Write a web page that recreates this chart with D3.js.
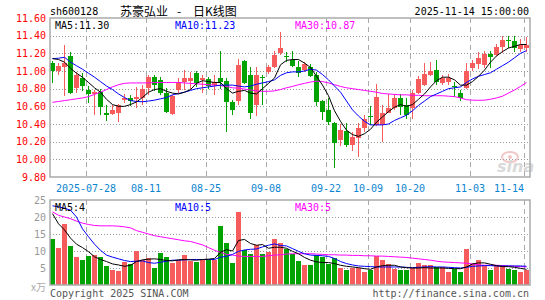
<!DOCTYPE html>
<html>
<head>
<meta charset="utf-8">
<script src="https://cdn.jsdelivr.net/npm/d3@7"></script>
<style>
  body { margin: 0; background: #fff; }
  svg { display: block; }
  text { font-family: "DejaVu Sans Mono", monospace; font-size: 10px; }
</style>
</head>
<body>
<div id="chart"></div>
<script>
// trading days shown (80 sessions)
const dates = [
  "2025-07-18","2025-07-21","2025-07-22","2025-07-23","2025-07-24","2025-07-25",
  "2025-07-28","2025-07-29","2025-07-30","2025-07-31","2025-08-01",
  "2025-08-04","2025-08-05","2025-08-06","2025-08-07","2025-08-08",
  "2025-08-11","2025-08-12","2025-08-13","2025-08-14","2025-08-15",
  "2025-08-18","2025-08-19","2025-08-20","2025-08-21","2025-08-22",
  "2025-08-25","2025-08-26","2025-08-27","2025-08-28","2025-08-29",
  "2025-09-01","2025-09-02","2025-09-03","2025-09-04","2025-09-05",
  "2025-09-08","2025-09-09","2025-09-10","2025-09-11","2025-09-12",
  "2025-09-15","2025-09-16","2025-09-17","2025-09-18","2025-09-19",
  "2025-09-22","2025-09-23","2025-09-24","2025-09-25","2025-09-26",
  "2025-09-29","2025-09-30","2025-10-09","2025-10-10",
  "2025-10-13","2025-10-14","2025-10-15","2025-10-16","2025-10-17",
  "2025-10-20","2025-10-21","2025-10-22","2025-10-23","2025-10-24",
  "2025-10-27","2025-10-28","2025-10-29","2025-10-30","2025-10-31",
  "2025-11-03","2025-11-04","2025-11-05","2025-11-06","2025-11-07",
  "2025-11-10","2025-11-11","2025-11-12","2025-11-13","2025-11-14"
];

const open = [11.09,11.00,11.05,11.17,10.81,10.92,10.78,10.74,10.76,10.53,
  10.51,10.53,10.67,10.70,10.68,10.70,10.81,10.93,10.90,10.75,
  10.51,10.78,10.88,10.89,10.98,10.90,10.91,10.845,10.925,10.89,
  10.645,10.66,11.11,10.96,10.61,10.935,10.99,11.05,11.20,11.165,
  11.125,11.05,11.01,11.05,10.96,10.66,10.56,10.41,10.22,10.32,
  10.16,10.245,10.36,10.485,10.39,10.39,10.53,10.577,10.70,10.62,
  10.585,10.747,10.84,10.95,11.01,10.86,10.87,10.83,10.75,10.81,
  11.03,11.075,11.07,11.19,11.18,11.27,11.35,11.345,11.25,11.26];
const high = [11.11,11.09,11.29,11.21,10.99,10.98,10.83,10.78,10.80,10.61,
  10.61,10.63,10.74,10.73,10.82,10.84,10.96,10.96,10.93,10.81,
  10.73,10.92,11.01,10.99,11.00,10.95,10.93,10.95,11.23,10.92,
  10.67,11.14,11.13,11.05,11.05,10.955,11.07,11.23,11.445,11.22,
  11.226,11.11,11.10,11.08,10.99,10.67,10.69,10.42,10.40,10.41,
  10.31,10.41,10.50,10.60,10.85,10.615,10.735,10.74,10.735,10.69,
  10.785,10.94,11.09,11.10,11.12,10.95,10.97,10.88,10.78,11.09,
  11.13,11.22,11.23,11.23,11.31,11.40,11.40,11.40,11.36,11.38];
const low = [10.86,10.95,10.72,10.74,10.75,10.77,10.64,10.50,10.50,10.43,
  10.50,10.42,10.64,10.60,10.58,10.61,10.73,10.77,10.73,10.53,
  10.50,10.75,10.79,10.80,10.82,10.75,10.80,10.73,10.80,10.31,
  10.50,10.62,10.85,10.46,10.49,10.61,10.97,11.03,11.18,11.105,
  11.04,10.93,10.99,10.93,10.60,10.44,10.39,9.906,10.15,10.145,
  10.09,10.03,10.31,10.39,10.38,10.20,10.52,10.56,10.50,10.455,
  10.46,10.74,10.83,10.94,10.84,10.84,10.84,10.71,10.66,10.80,
  11.00,11.02,11.03,11.03,11.17,11.20,11.26,11.22,11.22,11.21];
const close = [11.00,11.06,11.09,10.75,10.95,10.83,10.74,10.76,10.59,10.50,
  10.56,10.62,10.70,10.66,10.71,10.80,10.93,10.84,10.75,10.54,
  10.72,10.87,10.92,10.92,10.86,10.92,10.83,10.875,10.87,10.65,
  10.56,11.07,10.86,10.53,10.95,10.925,11.04,11.18,11.265,11.155,
  11.06,10.975,11.075,10.947,10.653,10.54,10.42,10.19,10.33,10.16,
  10.257,10.35,10.457,10.48,10.71,10.52,10.577,10.69,10.596,10.50,
  10.747,10.91,10.97,11.00,10.87,10.92,10.92,10.82,10.69,11.00,
  11.09,11.15,11.19,11.16,11.27,11.35,11.345,11.265,11.30,11.30];

// volume, in 10k lots
const volume = [13.4,10.9,17.8,11.4,8.2,7.5,8.4,8.7,8.1,5.5,
  4.3,4.0,6.8,6.1,9.9,7.5,7.9,5.0,9.3,8.1,
  6.5,7.3,8.7,7.0,6.7,7.3,7.3,7.3,17.5,12.5,
  6.5,21.5,10.2,9.0,11.9,9.0,9.7,13.4,12.4,10.5,
  9.0,7.0,5.8,5.8,8.9,8.2,6.1,8.0,4.9,4.3,
  4.9,4.9,3.8,4.4,8.5,7.3,6.2,4.8,4.3,4.3,
  5.1,6.4,5.8,6.0,5.4,5.4,3.8,4.8,3.8,10.5,
  6.1,7.3,5.6,4.3,6.0,6.0,4.7,4.3,3.8,4.3];

// moving averages as drawn on the chart
const ma5 = [11.14,11.13,11.10,11.03,10.975,10.93,10.87,10.81,10.76,10.68,
  10.62,10.60,10.60,10.62,10.65,10.70,10.76,10.79,10.80,10.77,
  10.75,10.74,10.76,10.79,10.86,10.89,10.88,10.87,10.87,10.80,
  10.75,10.77,10.78,10.75,10.74,10.80,10.86,10.92,11.07,11.12,
  11.13,11.13,11.09,11.04,10.94,10.84,10.72,10.55,10.43,10.33,
  10.28,10.26,10.29,10.34,10.42,10.48,10.54,10.59,10.62,10.60,
  10.62,10.68,10.74,10.82,10.89,10.93,10.93,10.90,10.84,10.84,
  10.88,10.94,11.01,11.10,11.17,11.22,11.26,11.28,11.30,11.30];
const ma10 = [11.14,11.145,11.155,11.10,11.06,11.02,10.975,10.93,10.88,10.83,
  10.79,10.74,10.70,10.665,10.655,10.652,10.66,10.67,10.685,10.70,
  10.73,10.745,10.76,10.78,10.80,10.81,10.82,10.83,10.84,10.84,
  10.84,10.83,10.82,10.83,10.85,10.865,10.88,10.90,10.95,10.98,
  10.99,10.99,11.00,11.02,11.01,10.96,10.90,10.83,10.76,10.66,
  10.56,10.49,10.43,10.39,10.39,10.39,10.40,10.44,10.47,10.50,
  10.55,10.61,10.66,10.71,10.74,10.77,10.80,10.81,10.82,10.87,
  10.91,10.94,10.96,10.98,11.02,11.06,11.10,11.15,11.20,11.23];
const ma30 = [10.645,10.655,10.665,10.675,10.685,10.695,10.71,10.735,10.76,10.79,
  10.82,10.845,10.86,10.865,10.865,10.865,10.865,10.87,10.87,10.87,
  10.87,10.87,10.865,10.86,10.855,10.85,10.845,10.84,10.835,10.825,
  10.81,10.805,10.795,10.785,10.775,10.77,10.77,10.775,10.79,10.81,
  10.825,10.845,10.86,10.875,10.885,10.88,10.865,10.845,10.825,10.81,
  10.80,10.79,10.78,10.77,10.76,10.745,10.74,10.735,10.73,10.73,
  10.725,10.725,10.72,10.72,10.72,10.72,10.715,10.71,10.695,10.675,
  10.67,10.668,10.67,10.68,10.695,10.715,10.75,10.785,10.825,10.87];

const vma5 = [21.0,18.0,16.2,13.8,12.0,11.0,9.8,8.3,7.5,6.9,
  6.2,5.9,5.5,5.8,6.9,7.4,7.6,7.7,7.5,7.2,
  7.1,7.4,7.5,7.4,7.3,7.5,7.6,7.8,9.6,10.4,
  10.0,13.1,13.4,12.2,11.7,11.9,10.8,11.1,11.1,10.8,
  9.9,9.2,8.1,7.3,6.8,6.6,6.6,6.3,5.8,5.5,
  5.3,5.1,4.8,4.6,5.3,5.7,5.8,5.8,5.3,5.1,
  5.0,5.0,5.1,5.0,5.0,5.0,4.9,4.8,4.8,5.3,
  6.2,6.5,6.5,6.1,5.7,5.4,5.4,5.2,4.9,4.6];
const vma10 = [23.3,23.0,22.6,22.0,20.0,16.5,14.2,12.0,10.2,8.8,
  8.2,7.7,7.2,6.9,7.0,7.1,6.6,6.4,6.7,7.0,
  7.3,7.3,7.4,7.5,7.5,7.5,7.5,7.5,8.2,8.4,
  9.0,9.9,10.3,10.5,10.6,11.2,11.7,12.1,11.6,11.5,
  10.7,9.9,9.2,8.8,8.7,8.6,8.4,7.8,6.9,6.3,
  5.9,5.6,5.5,5.4,5.3,5.3,5.3,5.3,5.3,5.2,
  5.1,5.2,5.3,5.4,5.3,5.3,5.2,5.1,5.0,5.2,
  5.5,5.6,5.7,5.7,5.6,5.6,5.6,5.6,5.6,5.5];
const vma30 = [21.5,20.5,20.0,19.5,18.8,18.2,17.8,17.5,17.4,17.4,
  17.4,17.3,17.1,16.8,16.0,15.5,15.0,14.5,14.2,13.9,
  13.6,13.3,13.0,12.8,12.3,11.8,11.0,10.2,9.6,9.0,
  8.8,8.5,8.4,8.4,8.4,8.4,8.6,8.8,8.9,9.1,
  9.2,9.2,9.2,9.2,9.1,9.0,8.9,8.9,8.8,8.8,
  8.7,8.7,8.6,8.6,8.5,8.5,8.4,8.3,8.2,8.1,
  7.9,7.7,7.5,7.3,7.0,6.8,6.7,6.6,6.5,6.4,
  6.2,5.9,5.8,5.8,5.8,5.7,5.6,5.5,5.4,5.3];

const priceTicks = [9.8,10.0,10.2,10.4,10.6,10.8,11.0,11.2,11.4,11.6];
const volTicks = [5,10,15,20,25];
const tickDates = ["2025-07-28","2025-08-11","2025-08-25","2025-09-08","2025-09-22",
  "2025-10-09","2025-10-20","2025-11-03","2025-11-14"];
const tickLabels = ["2025-07-28","08-11","08-25","09-08","09-22","10-09","10-20","11-03","11-14"];

const width = 545, height = 300;
const left = 50, right = 530;
const RED = "#f65c5c", GREEN = "#00a300";

const svg = d3.select("#chart").append("svg")
  .attr("width", width).attr("height", height);

const x = d3.scaleBand().domain(dates).range([left, right]);
const y = d3.scaleLinear().domain([9.8, 11.6]).range([177, 18]);
const yv = d3.scaleLinear().domain([0, 25]).range([285, 200]);
const bw = x.bandwidth() - 1;

// header
svg.append("text").attr("x", 50).attr("y", 11).attr("dominant-baseline", "central")
  .text("sh600128");
const cjk = '"Noto Sans CJK SC", sans-serif';
[["苏豪弘业", 120], ["-", 177], ["日K线图", 193]].forEach(([t, xx]) =>
  svg.append("text").attr("x", xx).attr("y", 10).attr("dominant-baseline", "central")
    .style("font-family", cjk).style("font-size", "12px").text(t));
svg.append("text").attr("x", 529).attr("y", 11).attr("dominant-baseline", "central")
  .attr("text-anchor", "end").text("2025-11-14 15:00:00");

// grids
const grid = svg.append("g");
grid.selectAll(".hp").data(priceTicks.slice(1, -1)).enter().append("line")
  .attr("x1", left).attr("x2", right)
  .attr("y1", d => Math.round(y(d)) + 0.5).attr("y2", d => Math.round(y(d)) + 0.5)
  .attr("stroke", "#999").attr("stroke-dasharray", "1,2");
grid.selectAll(".hv").data(volTicks.slice(0, -1)).enter().append("line")
  .attr("x1", left).attr("x2", right)
  .attr("y1", d => Math.round(yv(d)) + 0.5).attr("y2", d => Math.round(yv(d)) + 0.5)
  .attr("stroke", "#999").attr("stroke-dasharray", "1,2");
[[18, 177], [200, 285]].forEach(([a, b]) => {
  grid.selectAll(null).data(tickDates).enter().append("line")
    .attr("x1", d => x(d) + 0.5).attr("x2", d => x(d) + 0.5)
    .attr("y1", a).attr("y2", b)
    .attr("stroke", "#aaa").attr("stroke-dasharray", "5,4");
});

// candles + volume bars
const cg = svg.append("g").attr("shape-rendering", "crispEdges");
dates.forEach((d, i) => {
  const c = close[i] >= open[i] ? RED : GREEN;
  cg.append("rect").attr("x", x(d) + 2).attr("width", 1)
    .attr("y", y(high[i])).attr("height", y(low[i]) - y(high[i])).attr("fill", c);
  const top = y(Math.max(open[i], close[i])), bot = y(Math.min(open[i], close[i]));
  cg.append("rect").attr("x", x(d)).attr("width", bw)
    .attr("y", top).attr("height", Math.max(1, bot - top)).attr("fill", c);
  cg.append("rect").attr("x", x(d)).attr("width", bw)
    .attr("y", yv(volume[i])).attr("height", yv(0) - yv(volume[i])).attr("fill", c);
});

// MA lines
const cx = (d, i) => x(dates[i]) + 2.5;
const priceLine = d3.line().x(cx).y(d => y(d));
const volLine = d3.line().x(cx).y(d => yv(d));
const lines = svg.append("g").attr("fill", "none").attr("stroke-width", 1);
[[ma30, "#ff00ff"], [ma10, "#0000ff"], [ma5, "#000"]].forEach(([s, c]) =>
  lines.append("path").attr("d", priceLine(s)).attr("stroke", c));
[[vma30, "#ff00ff"], [vma10, "#0000ff"], [vma5, "#000"]].forEach(([s, c]) =>
  lines.append("path").attr("d", volLine(s)).attr("stroke", c));

// watermark
const wm = svg.append("g").attr("opacity", 0.55);
wm.append("ellipse").attr("cx", 510).attr("cy", 157).attr("rx", 8).attr("ry", 5)
  .attr("fill", "none").attr("stroke", "#e89a9a").attr("stroke-width", 2);
wm.append("circle").attr("cx", 510).attr("cy", 157).attr("r", 2).attr("fill", "#e89a9a");
wm.append("text").attr("x", 497).attr("y", 172)
  .style("font-family", '"DejaVu Sans", sans-serif').style("font-size", "16px")
  .style("font-style", "italic").style("font-weight", "bold")
  .attr("fill", "#bbb").text("sina");

// frames
svg.append("rect").attr("x", left).attr("y", 18).attr("width", right - left).attr("height", 159)
  .attr("fill", "none").attr("stroke", "#aaa").attr("stroke-width", 1.5);
svg.append("rect").attr("x", left).attr("y", 200).attr("width", right - left).attr("height", 85)
  .attr("fill", "none").attr("stroke", "#aaa").attr("stroke-width", 1.5);

// price / volume axis labels
svg.selectAll(".pl").data(priceTicks).enter().append("text")
  .attr("x", 46).attr("y", d => y(d)).attr("text-anchor", "end")
  .attr("dominant-baseline", "central").attr("fill", "#f00")
  .text(d => d.toFixed(2));
svg.selectAll(".vl").data(volTicks).enter().append("text")
  .attr("x", 46).attr("y", d => yv(d)).attr("text-anchor", "end")
  .attr("dominant-baseline", "central").attr("fill", "#999")
  .text(d => d);
svg.append("text").attr("x", 46).attr("y", 286).attr("text-anchor", "end")
  .attr("dominant-baseline", "central").attr("fill", "#aaa")
  .style("font-family", cjk).text("x万");

// date labels
svg.selectAll(".dl").data(tickDates).enter().append("text")
  .attr("x", d => x(d)).attr("y", 188)
  .attr("text-anchor", (d, i) => i === tickDates.length - 1 ? "end" : "middle")
  .attr("dominant-baseline", "central").attr("fill", "#0a84d0")
  .text((d, i) => tickLabels[i]);

// MA legends
const legend = (yy, items) => items.forEach(([t, c, xx]) =>
  svg.append("text").attr("x", xx).attr("y", yy).attr("dominant-baseline", "central")
    .attr("fill", c).text(t));
legend(25, [["MA5:" + ma5[ma5.length - 1].toFixed(2), "#000", 55],
  ["MA10:" + ma10[ma10.length - 1].toFixed(2), "#0000ff", 175],
  ["MA30:" + ma30[ma30.length - 1].toFixed(2), "#ff00ff", 295]]);
legend(207, [["MA5:" + Math.floor(vma5[vma5.length - 1]), "#000", 55],
  ["MA10:" + Math.floor(vma10[vma10.length - 1]), "#0000ff", 175],
  ["MA30:" + Math.floor(vma30[vma30.length - 1]), "#ff00ff", 295]]);

// footer
svg.append("text").attr("x", 50).attr("y", 293).attr("dominant-baseline", "central")
  .attr("fill", "#555").text("Copyright 2025 SINA.COM");
svg.append("text").attr("x", 529).attr("y", 293).attr("dominant-baseline", "central")
  .attr("text-anchor", "end").attr("fill", "#555").text("http://finance.sina.com.cn");
</script>
</body>
</html>
